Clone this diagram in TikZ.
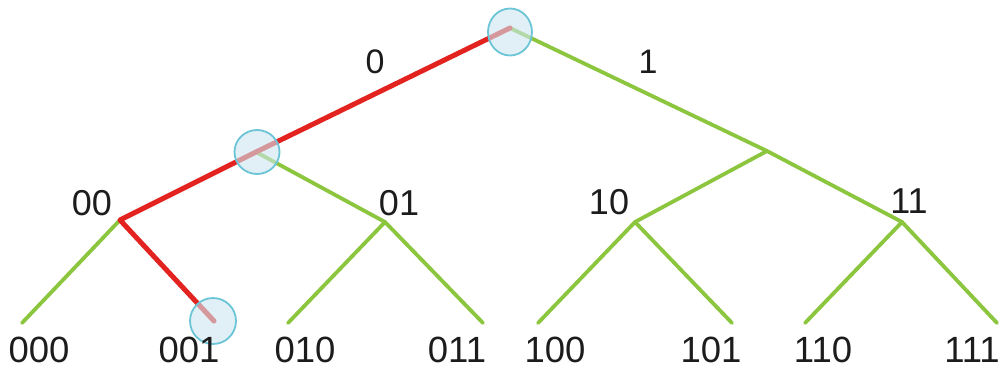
\documentclass[tikz,border=0pt]{standalone}
\usepackage{fontspec}
\setmainfont{Liberation Sans}
\usetikzlibrary{shapes.geometric}
\definecolor{pathred}{HTML}{E2231F}
\definecolor{edgegreen}{HTML}{8CC63F}
\definecolor{ringblue}{HTML}{6CC5D6}
\definecolor{fillblue}{HTML}{CDE6F0}
\definecolor{txt}{HTML}{1C1C1C}
\begin{document}
\begin{tikzpicture}[x=1pt,y=-1pt,
  greenedge/.style={draw=edgegreen,line width=3.8pt,line cap=round},
  rededge/.style={draw=pathred,line width=5pt,line cap=round},
  mark ring/.style={draw=ringblue,line width=1.8pt,fill=fillblue,fill opacity=0.6,ellipse,inner sep=0pt},
  leaflab/.style={text=txt,inner sep=0pt,font=\fontsize{36.5}{40}\selectfont},
  midlab/.style={text=txt,inner sep=0pt,font=\fontsize{36}{40}\selectfont},
  toplab/.style={text=txt,inner sep=0pt,font=\fontsize{34}{38}\selectfont}]
\useasboundingbox (0,0) rectangle (1000,370);
\fill[white] (0,0) rectangle (1000,370);
% tree points
\coordinate (r) at (510,28);
\coordinate (n0) at (256,152);
\coordinate (n1) at (767,151);
\coordinate (n00) at (120,220);
\coordinate (n01) at (385,222);
\coordinate (n10) at (635,222);
\coordinate (n11) at (902,222);
\coordinate (l000) at (22,323);
\coordinate (l001) at (214,321);
\coordinate (l010) at (288,323);
\coordinate (l011) at (483,323);
\coordinate (l100) at (538,323);
\coordinate (l101) at (732,323);
\coordinate (l110) at (805,323);
\coordinate (l111) at (997,323);
% green edges
\draw[greenedge] (r) -- (n1) -- (n11);
\draw[greenedge] (n1) -- (n10);
\draw[greenedge] (n0) -- (n01);
\draw[greenedge] (n00) -- (l000);
\draw[greenedge] (n01) -- (l010);
\draw[greenedge] (n01) -- (l011);
\draw[greenedge] (n10) -- (l100);
\draw[greenedge] (n10) -- (l101);
\draw[greenedge] (n11) -- (l110);
\draw[greenedge] (n11) -- (l111);
% red path
\draw[rededge,line join=round] (r) -- (n0) -- (n00) -- (l001);
% rings
\node[mark ring,minimum width=44pt,minimum height=47pt] (cr) at (510,32) {};
\node[mark ring,minimum width=45pt,minimum height=44pt] (c0) at (257,152) {};
\node[mark ring,minimum width=46pt,minimum height=46pt] (c001) at (213,321) {};
% labels
\node[toplab] (t0) at (375,62) {0};
\node[toplab] (t1) at (648,62) {1};
\node[midlab] (t00) at (92,203) {00};
\node[midlab] (t01) at (399,203) {01};
\node[midlab] (t10) at (609,202) {10};
\node[midlab] (t11) at (909,201) {11};
\node[leaflab] (t000) at (39,350) {000};
\node[leaflab] (t001) at (189,350) {001};
\node[leaflab] (t010) at (305,350) {010};
\node[leaflab] (t011) at (457,350) {011};
\node[leaflab] (t100) at (555,350) {100};
\node[leaflab] (t101) at (711,350) {101};
\node[leaflab] (t110) at (823,350) {110};
\node[leaflab] (t111) at (972,350) {111};
\end{tikzpicture}
\end{document}
